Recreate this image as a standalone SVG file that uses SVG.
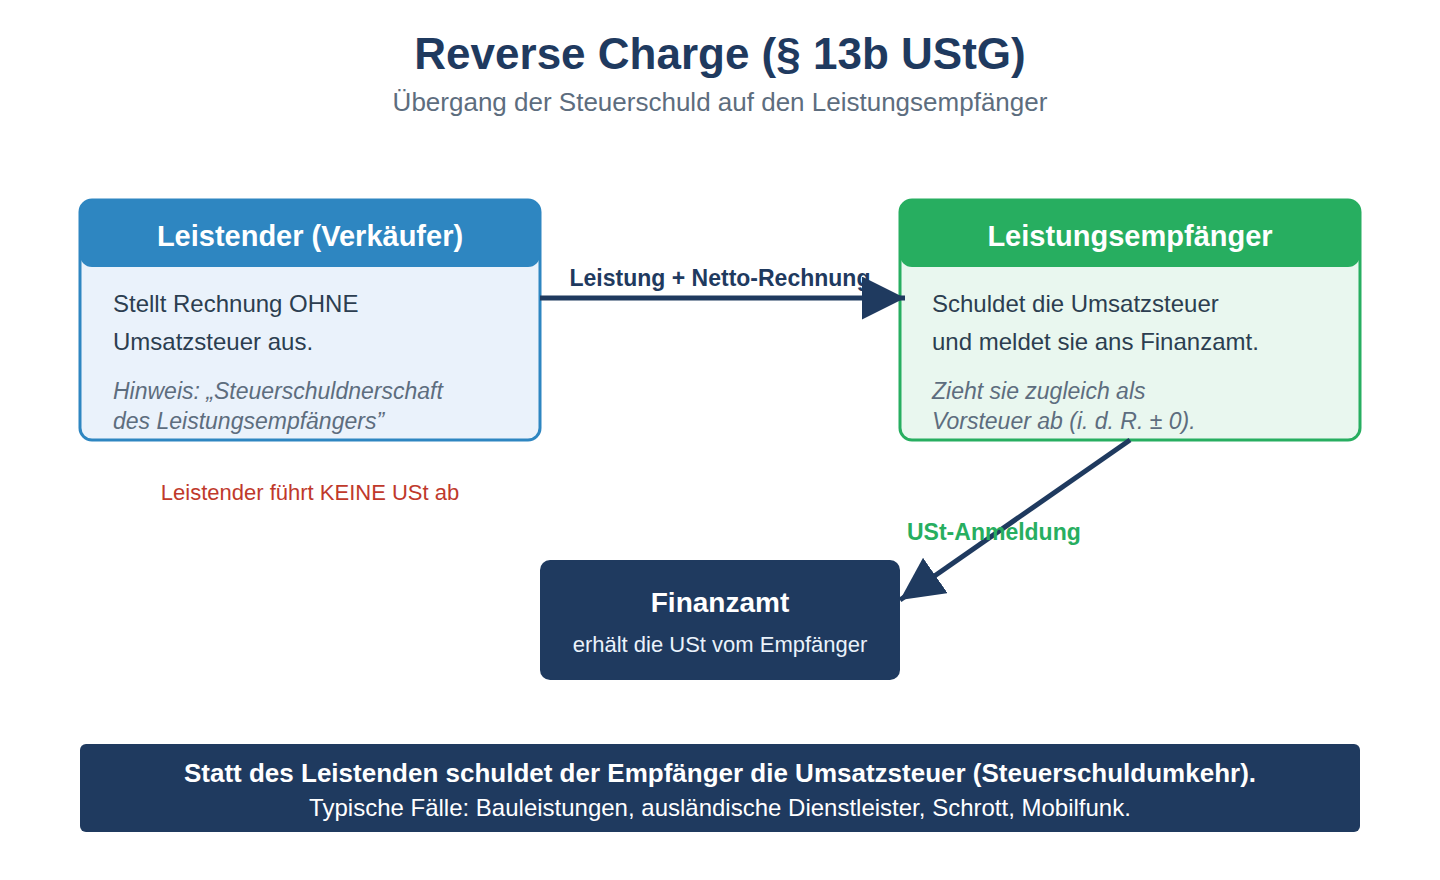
<svg xmlns="http://www.w3.org/2000/svg" width="1440" height="880" viewBox="0 0 1440 880">
<style>
text{font-family:"Liberation Sans",Arial,sans-serif}
.title{font-size:44px;font-weight:bold;fill:#1f3a5f}
.sub{font-size:26px;fill:#5d6d7e}
.hdr{font-size:29px;font-weight:bold;fill:#ffffff}
.body{font-size:24px;fill:#2c3e50}
.note{font-size:23px;font-style:italic;fill:#5d6d7e}
.conn{stroke:#1f3a5f;stroke-width:5;fill:none;marker-end:url(#ah)}
.lbl{font-size:23px;font-weight:bold}
</style>
<defs>
<marker id="ah" viewBox="0 0 10 10" refX="10" refY="5" markerWidth="8.6" markerHeight="8.6" orient="auto" markerUnits="strokeWidth">
<path d="M0,0 L10,5 L0,10 z" fill="#1f3a5f"/>
</marker>
</defs>
<rect width="1440" height="880" fill="#ffffff"/>
<text class="title" x="720" y="69" text-anchor="middle">Reverse Charge (§ 13b UStG)</text>
<text class="sub" x="720" y="111" text-anchor="middle">Übergang der Steuerschuld auf den Leistungsempfänger</text>

<g id="node-leistender">
<rect x="80" y="200" width="460" height="240" rx="12" fill="#eaf2fb" stroke="#2e86c1" stroke-width="3"/>
<rect x="80" y="200" width="460" height="67" rx="12" fill="#2e86c1"/>
<text class="hdr" x="310" y="246" text-anchor="middle">Leistender (Verkäufer)</text>
<text class="body" x="113" y="312">Stellt Rechnung OHNE</text>
<text class="body" x="113" y="350">Umsatzsteuer aus.</text>
<text class="note" x="113" y="399">Hinweis: „Steuerschuldnerschaft</text>
<text class="note" x="113" y="429">des Leistungsempfängers”</text>
</g>

<g id="node-empfaenger">
<rect x="900" y="200" width="460" height="240" rx="12" fill="#e9f7ef" stroke="#27ae60" stroke-width="3"/>
<rect x="900" y="200" width="460" height="67" rx="12" fill="#27ae60"/>
<text class="hdr" x="1130" y="246" text-anchor="middle">Leistungsempfänger</text>
<text class="body" x="932" y="312">Schuldet die Umsatzsteuer</text>
<text class="body" x="932" y="350">und meldet sie ans Finanzamt.</text>
<text class="note" x="932" y="399">Zieht sie zugleich als</text>
<text class="note" x="932" y="429">Vorsteuer ab (i. d. R. ± 0).</text>
</g>

<g id="note-leistender">
<text x="310" y="500" text-anchor="middle" font-size="22" fill="#c0392b">Leistender führt KEINE USt ab</text>
</g>

<g id="node-finanzamt">
<rect x="540" y="560" width="360" height="120" rx="10" fill="#1f3a5f"/>
<text x="720" y="612" text-anchor="middle" font-size="28" font-weight="bold" fill="#ffffff">Finanzamt</text>
<text x="720" y="652" text-anchor="middle" font-size="22" fill="#eaf2fb">erhält die USt vom Empfänger</text>
</g>

<g id="connectors">
<line class="conn" x1="540" y1="298" x2="905" y2="298"/>
<text class="lbl" x="720" y="286" text-anchor="middle" fill="#1f3a5f">Leistung + Netto-Rechnung</text>
<line class="conn" x1="1130" y1="440" x2="900" y2="600"/>
<text class="lbl" x="907" y="540" fill="#27ae60">USt-Anmeldung</text>
</g>

<g id="summary">
<rect x="80" y="744" width="1280" height="88" rx="6" fill="#1f3a5f"/>
<text x="720" y="782" text-anchor="middle" font-size="26" font-weight="bold" fill="#ffffff">Statt des Leistenden schuldet der Empfänger die Umsatzsteuer (Steuerschuldumkehr).</text>
<text x="720" y="816" text-anchor="middle" font-size="24" fill="#ffffff">Typische Fälle: Bauleistungen, ausländische Dienstleister, Schrott, Mobilfunk.</text>
</g>
</svg>
